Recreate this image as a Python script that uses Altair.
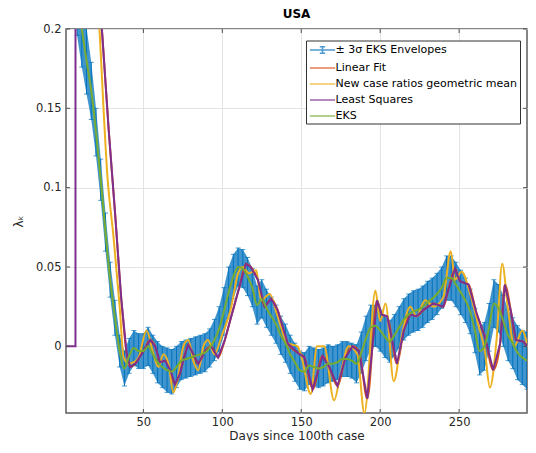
import altair as alt
import pandas as pd

# ---------------- data ----------------
eks_days = list(range(8, 294, 3))
eks_vals = [
    0.222, 0.200, 0.180, 0.161, 0.135, 0.105, 0.072, 0.042, 0.018, -0.003,
    -0.014, -0.006, -0.001, -0.003, -0.003, 0.000, -0.005, -0.010, -0.013, -0.015,
    -0.016, -0.013, -0.009, -0.008, -0.007, -0.006, -0.005, -0.004, -0.001, 0.004,
    0.011, 0.022, 0.034, 0.044, 0.050, 0.049, 0.044, 0.037, 0.026, 0.030,
    0.024, 0.019, 0.014, 0.007, 0.002, -0.005, -0.010, -0.015, -0.016, -0.012,
    -0.013, -0.014, -0.013, -0.011, -0.011, -0.010, -0.008, -0.008, -0.009, -0.011,
    -0.004, 0.005, 0.012, 0.013, 0.010, 0.006, 0.003, 0.007, 0.012, 0.017,
    0.020, 0.022, 0.023, 0.025, 0.028, 0.030, 0.033, 0.037, 0.043, 0.043,
    0.039, 0.034, 0.029, 0.022, 0.010, -0.003, 0.000, 0.012, 0.027, 0.024,
    0.016, 0.007, 0.002, -0.004, -0.007, -0.009,
]
eks_3sigma = [
    0.026, 0.024, 0.021, 0.018, 0.015, 0.013, 0.012, 0.011, 0.011, 0.010,
    0.011, 0.011, 0.011, 0.011, 0.011, 0.012, 0.012, 0.013, 0.013, 0.014,
    0.014, 0.013, 0.012, 0.012, 0.012, 0.012, 0.012, 0.012, 0.012, 0.013,
    0.014, 0.015, 0.016, 0.014, 0.012, 0.012, 0.012, 0.012, 0.012, 0.012,
    0.012, 0.012, 0.012, 0.012, 0.012, 0.012, 0.012, 0.012, 0.012, 0.012,
    0.012, 0.012, 0.012, 0.012, 0.011, 0.011, 0.011, 0.011, 0.011, 0.012,
    0.013, 0.014, 0.014, 0.013, 0.013, 0.013, 0.013, 0.013, 0.013, 0.013,
    0.013, 0.013, 0.013, 0.013, 0.013, 0.013, 0.013, 0.013, 0.014, 0.014,
    0.014, 0.014, 0.014, 0.014, 0.014, 0.015, 0.015, 0.015, 0.015, 0.015,
    0.016, 0.016, 0.016, 0.017, 0.017, 0.018,
]

ls_days = [1, 7, 7.05, 22, 24, 28, 32, 36, 39.5, 41.7, 44.9, 47.5, 50, 54.3, 57.5,
           60.6, 63.8, 67, 70, 73.2, 76, 78.5, 81.6, 84.8, 89, 93, 97.3, 101.6,
           105.7, 111, 115, 118, 122.5, 126.8, 131, 135, 141.4, 147.7, 152, 157.2,
           163.5, 167.7, 173, 178, 182.4, 186.6, 191.8, 198, 201, 204.4, 210.7,
           214.9, 219, 223, 227.5, 233.8, 240, 243, 247.4, 250.5, 256, 261, 266.3,
           271.6, 276, 279, 283, 286, 290.6, 293]
ls_vals = [0.0, 0.0, 0.60, 0.222, 0.196, 0.137, 0.085, 0.030, -0.005, -0.013, -0.011,
           -0.007, -0.003, 0.004, 0.000, -0.010, -0.009, -0.015, -0.024, -0.017, -0.006,
           0.001, -0.005, -0.011, -0.003, 0.000, -0.007, 0.004, 0.019, 0.038, 0.052,
           0.050, 0.042, 0.025, 0.030, 0.023, 0.002, -0.004, -0.007, -0.027, -0.006,
           -0.013, -0.025, -0.007, 0.000, -0.003, -0.033, 0.029, 0.020, 0.019, -0.011,
           0.010, 0.020, 0.019, 0.023, 0.027, 0.025, 0.035, 0.049, 0.041, 0.039, 0.021,
           0.006, -0.015, 0.002, 0.039, 0.021, 0.004, 0.003, 0.000]

lin_days = ls_days[3:]
lin_vals = ls_vals[3:]

nc_days = [21, 22.2, 27.4, 31, 35, 37.5, 40.7, 44, 47, 52, 56.4, 59.5, 62.7, 65.9, 69,
           72, 75.3, 78.5, 81.6, 84.8, 88, 91, 95, 99.4, 105.7, 110, 113, 117, 121.5,
           124.6, 130, 135, 141.4, 147.7, 150.5, 156, 160, 164.5, 170.8, 175, 180,
           185.5, 190, 197, 200, 203.4, 208.6, 214, 219, 223, 228.5, 233.8, 240,
           244.7, 247.4, 251.6, 257, 262, 266.3, 269.5, 273.7, 277.3, 281, 285, 290, 293]
nc_vals = [0.222, 0.200, 0.105, 0.070, 0.025, -0.007, -0.011, -0.010, -0.007, 0.010,
           -0.005, -0.013, -0.005, -0.011, -0.029, -0.019, 0.000, 0.004, -0.009, -0.015,
           0.000, 0.004, -0.005, 0.006, 0.025, 0.046, 0.050, 0.046, 0.048, 0.029, 0.033,
           0.019, 0.002, 0.000, -0.008, -0.030, 0.000, 0.000, -0.034, -0.017, 0.000,
           -0.005, -0.042, 0.035, 0.016, 0.027, -0.022, 0.008, 0.025, 0.019, 0.029,
           0.025, 0.031, 0.060, 0.042, 0.047, 0.033, 0.014, -0.003, -0.026, 0.004,
           0.052, 0.023, 0.000, 0.010, 0.002]

names = ["± 3σ EKS Envelopes", "Linear Fit", "New case ratios geometric mean",
         "Least Squares", "EKS"]
colors = ["#0072BD", "#D95319", "#EDB120", "#7E2F8E", "#77AC30"]
x_ticks = [50, 100, 150, 200, 250]
y_ticks = [0, 0.05, 0.1, 0.15, 0.2]

# ---------------- tables ----------------
band = pd.DataFrame({
    "day": eks_days,
    "lo": [v - s for v, s in zip(eks_vals, eks_3sigma)],
    "hi": [v + s for v, s in zip(eks_vals, eks_3sigma)],
})
eks_df = pd.DataFrame({"day": eks_days, "v": eks_vals})
ls_df = pd.DataFrame({"day": ls_days, "v": ls_vals, "o": range(len(ls_days))})
lin_df = pd.DataFrame({"day": lin_days, "v": lin_vals})
nc_df = pd.DataFrame({"day": nc_days, "v": nc_vals})
leg_df = pd.DataFrame({"series": names, "day": [-60] * 5, "v": [0.0] * 5})
xt_df = pd.DataFrame({"t": x_ticks})
yt_df = pd.DataFrame({"t": y_ticks})

W, H = 461, 384
FONT = "DejaVu Sans"

xscale = alt.Scale(domain=[1, 293], nice=False, zero=False)
yscale = alt.Scale(domain=[-0.042, 0.2], nice=False, zero=False)
xaxis = alt.Axis(values=x_ticks, title="Days since 100th case", grid=True,
                 tickSize=0, labelPadding=3, titleY=22, titleBaseline="middle",
                 domain=False)
yaxis = alt.Axis(values=y_ticks, title="λₖ", grid=True, format="~g",
                 tickSize=0, labelPadding=5, titlePadding=10, domain=False)

X = alt.X("day:Q", scale=xscale, axis=xaxis)

area = alt.Chart(band).mark_area(color=colors[0], opacity=0.75, clip=True).encode(
    x=X, y=alt.Y("lo:Q", scale=yscale, axis=yaxis), y2="hi:Q")
rules = alt.Chart(band).mark_rule(color=colors[0], strokeWidth=1, clip=True).encode(
    x=X, y=alt.Y("lo:Q", scale=yscale, axis=yaxis), y2="hi:Q")
cap_lo = alt.Chart(band).mark_tick(color=colors[0], orient="horizontal", size=5,
                                   thickness=1, clip=True).encode(
    x=X, y=alt.Y("lo:Q", scale=yscale, axis=yaxis))
cap_hi = alt.Chart(band).mark_tick(color=colors[0], orient="horizontal", size=5,
                                   thickness=1, clip=True).encode(
    x=X, y=alt.Y("hi:Q", scale=yscale, axis=yaxis))

def line(df, color, interp="monotone", order=False):
    enc = dict(x=X, y=alt.Y("v:Q", scale=yscale, axis=yaxis))
    if order:
        enc["order"] = alt.Order("o:Q")
    return alt.Chart(df).mark_line(color=color, strokeWidth=2, clip=True,
                                   interpolate=interp).encode(**enc)

lin_line = line(lin_df, colors[1])
nc_line = line(nc_df, colors[2])
ls_line = line(ls_df, colors[3], interp="linear", order=True)
eks_line = line(eks_df, colors[4])

err_path = "M-2.1,0L2.1,0M0,-0.55L0,0.55M-0.45,-0.55L0.45,-0.55M-0.45,0.55L0.45,0.55"
ln_path = "M-2.1,0L2.1,0"
leg_kw = dict(orient="none", legendX=240, legendY=11.5, title=None, padding=2.5,
              symbolOffset=7, symbolSize=144, symbolStrokeWidth=1.6,
              labelFont=FONT, labelFontSize=11, labelColor="#000000",
              labelOffset=6, rowPadding=4, strokeColor="#333333",
              fillColor="#ffffff", labelLimit=0)
legend_layer = alt.Chart(leg_df).mark_point(filled=False, size=144, strokeWidth=1.6,
                                            clip=True).encode(
    x=X, y=alt.Y("v:Q", scale=yscale, axis=yaxis),
    color=alt.Color("series:N", scale=alt.Scale(domain=names, range=colors),
                    legend=alt.Legend(**leg_kw)),
    shape=alt.Shape("series:N",
                    scale=alt.Scale(domain=names, range=[err_path] + [ln_path] * 4),
                    legend=alt.Legend(**leg_kw)),
)

tick_col = "#4d4d4d"
xt_bot = alt.Chart(xt_df).mark_rule(color=tick_col, strokeWidth=1).encode(
    x=alt.X("t:Q", scale=xscale, axis=xaxis), y=alt.value(H), y2=alt.value(H - 4))
xt_top = alt.Chart(xt_df).mark_rule(color=tick_col, strokeWidth=1).encode(
    x=alt.X("t:Q", scale=xscale, axis=xaxis), y=alt.value(0), y2=alt.value(4))
yt_l = alt.Chart(yt_df).mark_rule(color=tick_col, strokeWidth=1).encode(
    y=alt.Y("t:Q", scale=yscale, axis=yaxis), x=alt.value(0), x2=alt.value(4))
yt_r = alt.Chart(yt_df).mark_rule(color=tick_col, strokeWidth=1).encode(
    y=alt.Y("t:Q", scale=yscale, axis=yaxis), x=alt.value(W - 4), x2=alt.value(W))

chart = alt.layer(
    area, rules, cap_lo, cap_hi, lin_line, nc_line, ls_line, eks_line,
    xt_bot, xt_top, yt_l, yt_r, legend_layer,
).properties(
    width=W, height=H,
    title=alt.Title("USA", fontSize=12, fontWeight="bold", font=FONT,
                    color="#000000", offset=2),
    autosize=alt.AutoSizeParams(type="none"),
    padding={"left": 58, "top": 21, "right": 1, "bottom": 28},
).configure_view(
    stroke="#5e5e5e", strokeWidth=1.5,
).configure_axis(
    labelFont=FONT, labelFontSize=11.5, labelColor="#262626",
    titleFont=FONT, titleFontSize=12, titleColor="#262626", titleFontWeight="normal",
    gridColor="#e3e3e3", gridWidth=1,
)

chart.save("out.html", embed_options={"renderer": "svg", "actions": False})
